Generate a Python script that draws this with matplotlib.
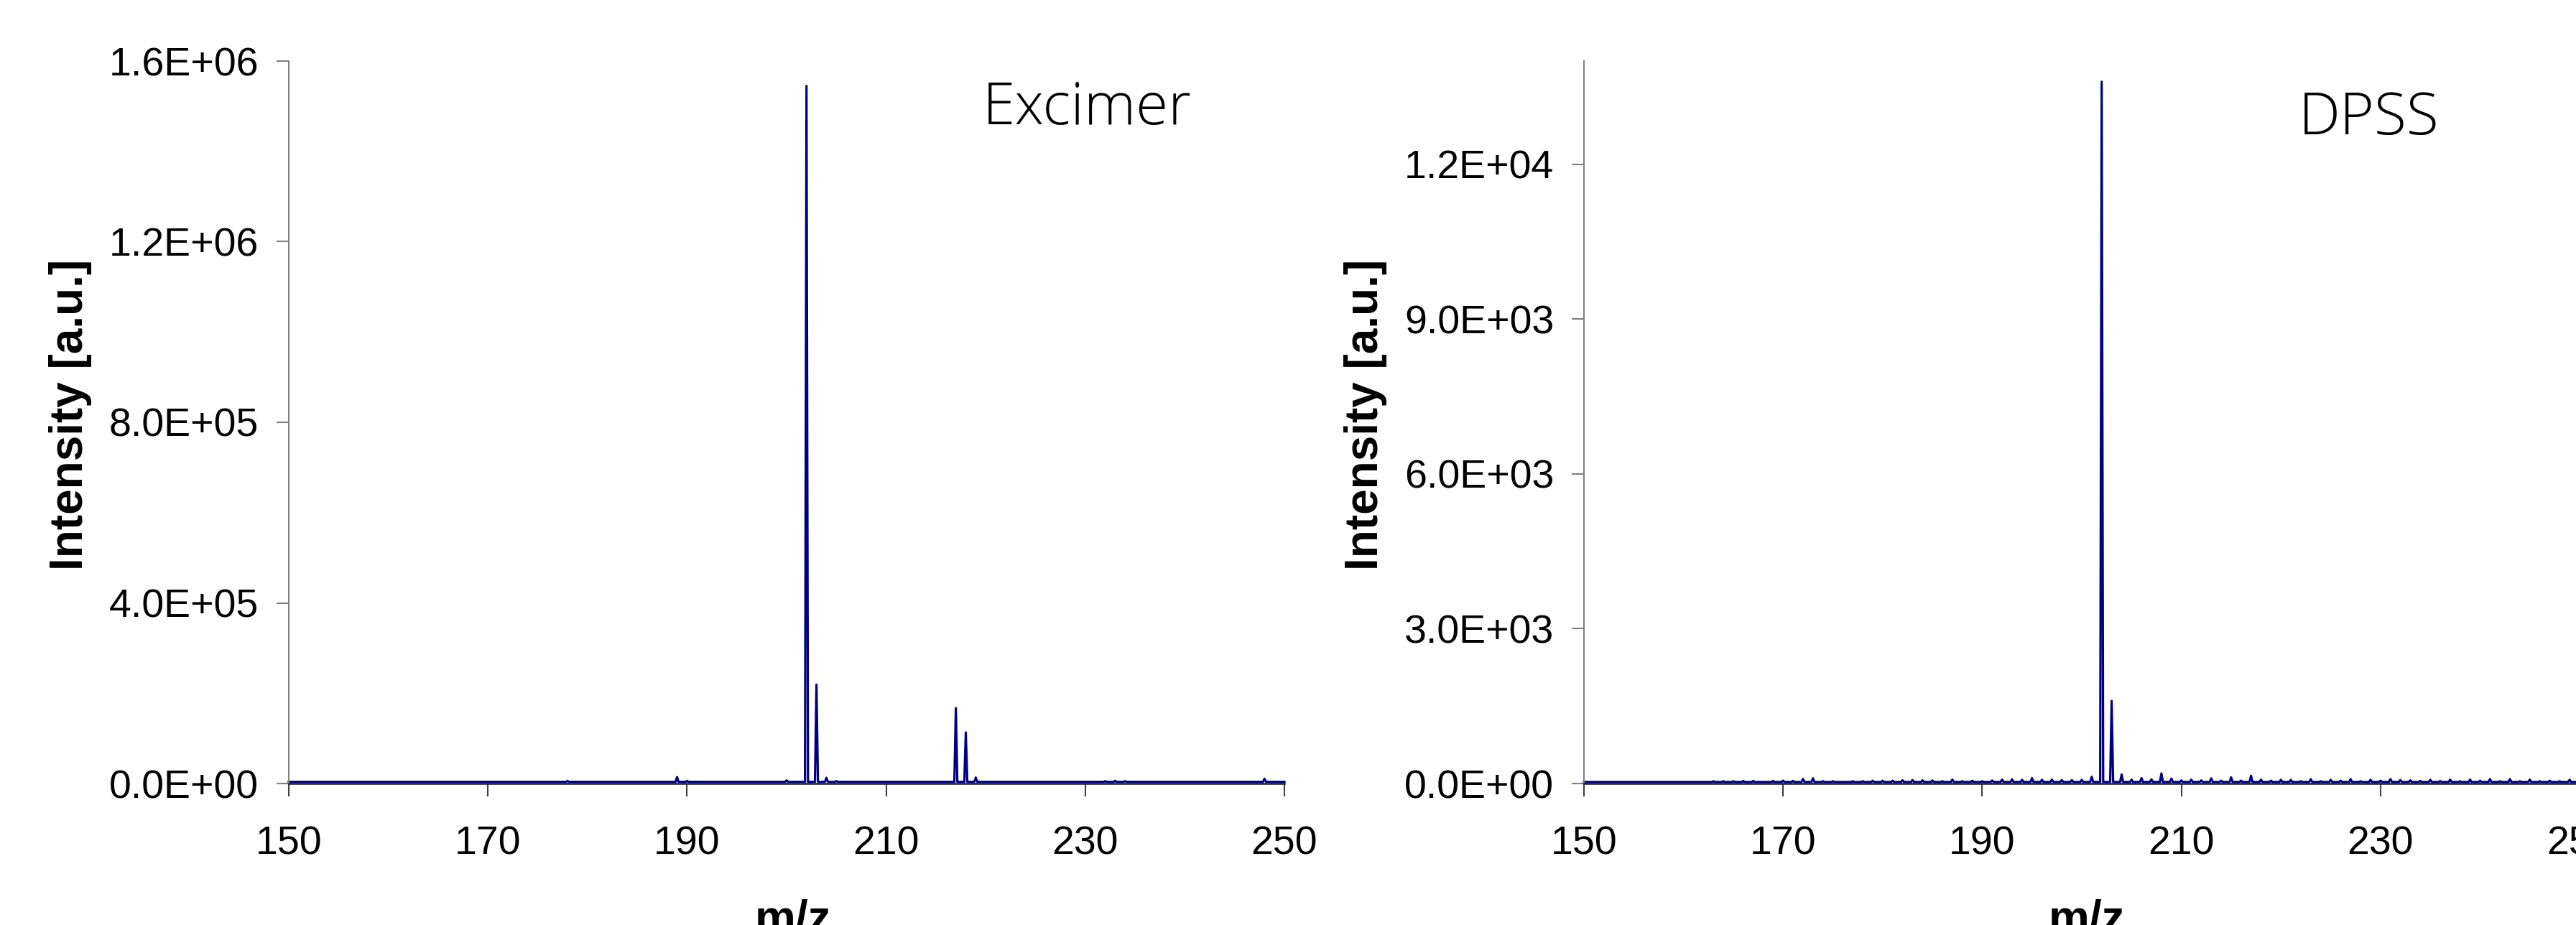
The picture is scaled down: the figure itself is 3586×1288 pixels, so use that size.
import matplotlib.pyplot as plt
from matplotlib.ticker import FuncFormatter, MultipleLocator

plt.rcParams['font.family'] = ['Liberation Sans', 'DejaVu Sans']

# Excimer spectrum (peak m/z, intensity incl. baseline)
exc_mz = [178, 189, 190, 200, 202, 203, 204, 205, 217, 218, 219, 232, 233, 234, 248]
exc_int = [5800, 14300, 5800, 6900, 1545000, 219000, 12700, 5300,
           167000, 113000, 13200, 5300, 6000, 5300, 10600]
exc_base = 3700

# DPSS spectrum
dpss_mz = [163, 164, 165, 166, 167, 169, 170, 171, 172, 173, 174, 175, 177, 178,
           179, 180, 181, 182, 183, 184, 185, 186, 187, 188, 189, 190, 191, 192,
           193, 194, 195, 196, 197, 198, 199, 200, 201, 202, 203, 204, 205, 206,
           207, 208, 209, 210, 211, 212, 213, 214, 215, 216, 217, 218, 219, 220,
           221, 222, 223, 224, 225, 226, 227, 228, 229, 230, 231, 232, 233, 234,
           235, 236, 237, 238, 239, 240, 241, 242, 243, 244, 245, 246, 247, 248,
           249, 250]
dpss_int = [44, 44, 44, 50, 50, 50, 55, 50, 90, 100, 44, 44, 44, 44,
            54, 54, 54, 62, 67, 62, 58, 44, 76, 44, 54, 44, 58, 76,
            81, 72, 104, 72, 76, 67, 67, 70, 130, 13600, 1600, 175, 75, 105,
            80, 195, 95, 60, 75, 60, 100, 55, 120, 55, 150, 75, 55, 72,
            72, 44, 86, 44, 72, 54, 86, 44, 72, 54, 86, 67, 62, 50,
            72, 48, 76, 44, 76, 54, 86, 44, 86, 44, 76, 44, 54, 44,
            72, 44]
dpss_base = 30

x_ticks = [150, 170, 190, 210, 230, 250]


def stick_line(mz, inten, base, hw=0.15):
    xs = [150]
    ys = [base]
    for m, v in zip(mz, inten):
        xs += [m - hw, m, m + hw]
        ys += [base, v, base]
    xs.append(250)
    ys.append(base)
    return xs, ys


W, H = 3587, 1288
fig = plt.figure(figsize=(W / 100, H / 100), dpi=100)

sci = FuncFormatter(lambda v, p: f"{v:.1E}")

panels = [
    (402, exc_mz, exc_int, exc_base, 1.6e6, 4e5, "Excimer", 1368, 172.5, 1104),
    (2205, dpss_mz, dpss_int, dpss_base, 1.4e4, 3e3, "DPSS", 3200, 187, 2905),
]

for left, mz, inten, base, ytop, ystep, name, tx, ty, mzx in panels:
    ax = fig.add_axes([left / W, (H - 1091) / H, 1386 / W, 1006 / H])
    xs, ys = stick_line(mz, inten, base)
    ax.plot(xs, ys, color='#000080', lw=2.3, clip_on=False)
    ax.set_xlim(150, 250)
    ax.set_ylim(0, ytop)
    ax.set_xticks(x_ticks)
    ax.yaxis.set_major_locator(MultipleLocator(ystep))
    ax.yaxis.set_major_formatter(sci)
    for s in ['top', 'right']:
        ax.spines[s].set_visible(False)
    ax.spines['left'].set_color('#808080')
    ax.spines['left'].set_linewidth(1.5)
    ax.spines['bottom'].set_color('#202020')
    ax.spines['bottom'].set_linewidth(1.8)
    ax.tick_params(axis='y', direction='out', length=12, width=1.5,
                   color='#808080', labelsize=40, pad=18)
    ax.tick_params(axis='x', direction='out', length=13, width=1.5,
                   color='#404040', labelsize=40, pad=29)
    fig.text(tx / W, (H - ty) / H, name, ha='left', va='baseline',
             fontsize=59, family=['Open Sans', 'DejaVu Sans'], fontweight='light')
    fig.text((left - 304) / W, (H - 577) / H, "Intensity [a.u.]", rotation=90,
             ha='center', va='center', fontsize=46, fontweight='bold')
    fig.text(mzx / W, (H - 1298) / H, "m/z", ha='center', va='baseline',
             fontsize=46, fontweight='bold')

fig.savefig('out.png', dpi=100)
